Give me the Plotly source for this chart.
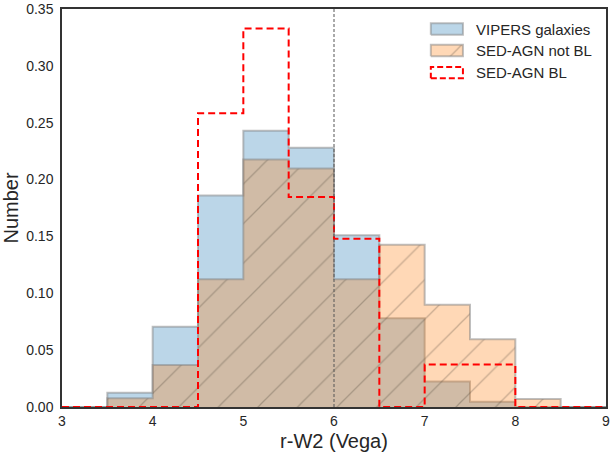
import plotly.graph_objects as go

# Histogram bins of r-W2 (Vega), 0.5 mag wide from 3 to 9
bin_edges = [3.0, 3.5, 4.0, 4.5, 5.0, 5.5, 6.0, 6.5, 7.0, 7.5, 8.0, 8.5, 9.0]

# Normalised counts per bin
vipers_galaxies = [0.0, 0.0125, 0.0705, 0.186, 0.243, 0.228, 0.151, 0.078, 0.0225, 0.0047, 0.0, 0.0]
sed_agn_not_bl = [0.0, 0.0076, 0.0370, 0.1123, 0.2176, 0.2097, 0.1123, 0.1426, 0.0899, 0.0595, 0.0070, 0.0]
sed_agn_bl = [0.0, 0.0, 0.0, 0.2584, 0.3328, 0.1846, 0.148, 0.0, 0.0373, 0.0373, 0.0, 0.0]

series_names = ["VIPERS galaxies", "SED-AGN not BL", "SED-AGN BL"]
x_ticks = [3, 4, 5, 6, 7, 8, 9]
y_ticks = [0.0, 0.05, 0.10, 0.15, 0.20, 0.25, 0.30, 0.35]
divider_x = 6

FONT = "Liberation Sans, Arial, sans-serif"
TEXT = "#262626"
BLUE_FILL = "rgba(31,119,180,0.3)"
ORANGE_FILL = "rgba(255,127,14,0.3)"
EDGE = "rgba(128,128,128,0.5)"
HATCH = "rgba(70,60,50,0.6)"
RED = "#ff0000"


def step_y(values):
    # 'hv' steps need one value per edge; repeat the last bin
    return list(values) + [values[-1]]


hatch = dict(shape="/", size=28, solidity=0.045, fgcolor=HATCH, bgcolor=ORANGE_FILL)

fig = go.Figure()

fig.add_trace(go.Scatter(
    x=bin_edges, y=step_y(vipers_galaxies), mode="lines", line_shape="hv",
    line=dict(color=EDGE, width=2), fill="tozeroy", fillcolor=BLUE_FILL,
    name=series_names[0], showlegend=False, hoverinfo="skip"))

fig.add_trace(go.Scatter(
    x=bin_edges, y=step_y(sed_agn_not_bl), mode="lines", line_shape="hv",
    line=dict(color=EDGE, width=2), fill="tozeroy", fillcolor=ORANGE_FILL,
    fillpattern=hatch, name=series_names[1], showlegend=False, hoverinfo="skip"))

fig.add_trace(go.Scatter(
    x=bin_edges, y=step_y(sed_agn_bl), mode="lines", line_shape="hv",
    line=dict(color=RED, width=2, dash="7px,4px"),
    name=series_names[2], showlegend=False, hoverinfo="skip"))

# Legend keys, drawn on an overlay axis spanning the plot area (0..1 both ways)
key_x0, key_x1 = 0.678, 0.737
key_rows = [(0.935, 0.964), (0.881, 0.910), (0.826, 0.854)]
text_x = 0.757
key_styles = [
    dict(fillcolor=BLUE_FILL, line=dict(color=EDGE, width=2)),
    dict(fillcolor=ORANGE_FILL, fillpattern=hatch, line=dict(color=EDGE, width=2)),
    dict(fillcolor="rgba(0,0,0,0)", line=dict(color=RED, width=2, dash="6px,3px")),
]
for (y0, y1), style, name in zip(key_rows, key_styles, series_names):
    fig.add_trace(go.Scatter(
        x=[key_x0, key_x1, key_x1, key_x0, key_x0], y=[y0, y0, y1, y1, y0],
        mode="lines", fill="toself", xaxis="x2", yaxis="y2",
        showlegend=False, hoverinfo="skip", **style))
    fig.add_annotation(
        x=text_x, y=(y0 + y1) / 2, xref="x2", yref="y2", text=name,
        showarrow=False, xanchor="left", yanchor="middle",
        font=dict(family=FONT, size=15, color=TEXT))

fig.add_shape(type="line", x0=divider_x, x1=divider_x, y0=0, y1=1,
              xref="x", yref="paper",
              line=dict(color="#555555", width=1, dash="3px,2px"))

axis_common = dict(
    showgrid=False, zeroline=False, showline=True, mirror=True,
    linecolor="#333333", linewidth=1.5, ticks="",
    tickfont=dict(family=FONT, size=14, color=TEXT),
    ticklabeloverflow="allow",
)

fig.update_layout(
    width=611, height=455,
    margin=dict(l=62, r=1, t=7, b=48),
    paper_bgcolor="white", plot_bgcolor="white",
    font=dict(family=FONT, color=TEXT),
    xaxis=dict(range=[3, 9], tickvals=x_ticks, ticktext=[str(v) for v in x_ticks],
               title=dict(text="r-W2 (Vega)", font=dict(family=FONT, size=20, color=TEXT),
                          standoff=6),
               layer="below traces", **axis_common),
    yaxis=dict(range=[0, 0.35001], tickvals=y_ticks, ticktext=[f"{v:.2f}" for v in y_ticks],
               title=dict(text="Number", font=dict(family=FONT, size=20, color=TEXT),
                          standoff=6),
               ticklabelstandoff=4, **axis_common),
    xaxis2=dict(range=[0, 1], overlaying="x", visible=False, anchor="y2"),
    yaxis2=dict(range=[0, 1], overlaying="y", visible=False, anchor="x2"),
    showlegend=False,
)

fig.write_html("out.html")
